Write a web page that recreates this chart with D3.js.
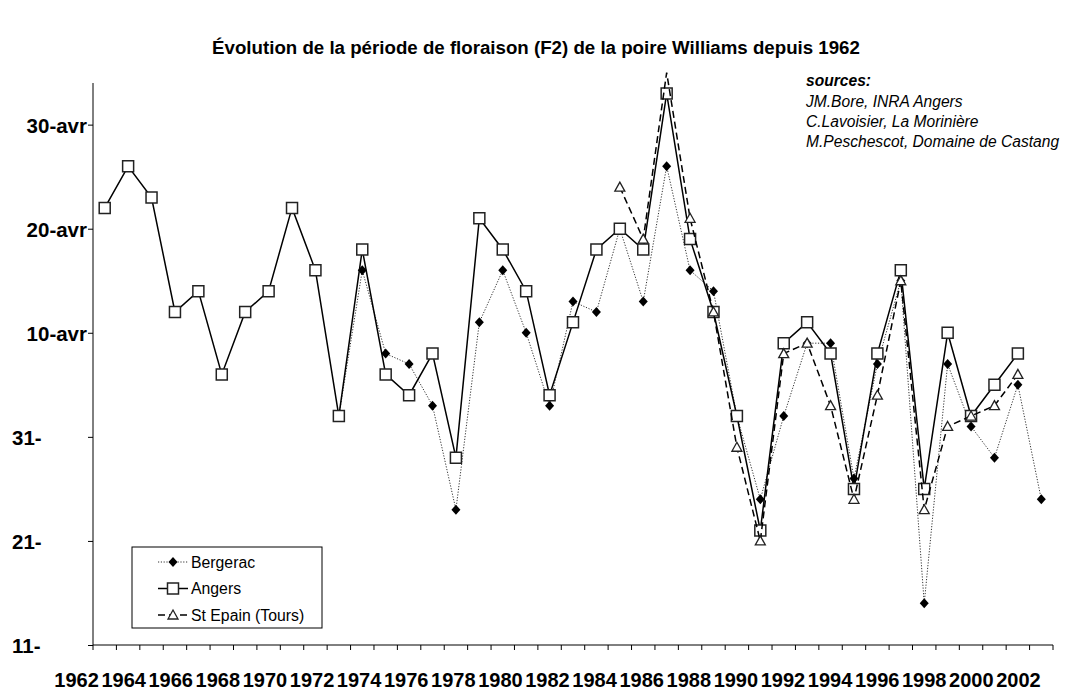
<!DOCTYPE html>
<html>
<head>
<meta charset="utf-8">
<script src="https://cdn.jsdelivr.net/npm/d3@7"></script>
<style>
body { margin: 0; background: #fff; }
svg text { font-family: "Liberation Sans", Arial, sans-serif; fill: #000; }
</style>
</head>
<body>
<script>
"use strict";

// dates de floraison F2, en jours comptés depuis le 1er mars (31 = 31 mars, 41 = 10 avril)
let years = d3.range(1962, 2003);
let bergerac = [null, null, null, null, null, null, null, null, null, null,
    33, 47, 39, 38, 34, 24, 42, 47, 41, 34, 44, 43, 51, 44, 57, 47, 45, 33, 25, 33,
    40, 40, 27, 38, 46, 15, 38, 32, 29, 36, 25];
let angers = [53, 57, 54, 43, 45, 37, 43, 45, 53, 47, 33, 49, 37, 35, 39, 29, 52, 49, 45, 35,
    42, 49, 51, 49, 64, 50, 43, 33, 22, 40, 42, 39, 26, 39, 47, 26, 41, 33, 36, 39, null];
let stEpain = [null, null, null, null, null, null, null, null, null, null,
    null, null, null, null, null, null, null, null, null, null, null, null,
    55, 50, 66, 52, 43, 30, 21, 39, 40, 34, 25, 35, 46, 24, 32, 33, 34, 37, null];

let yTicks = [11, 21, 31, 41, 51, 61];
let yLabels = ["11-", "21-", "31-", "10-avr", "20-avr", "30-avr"];
let xLabelYears = d3.range(1962, 2003, 2);
let seriesNames = ["Bergerac", "Angers", "St Epain (Tours)"];
let sources = ["JM.Bore, INRA Angers", "C.Lavoisier, La Morinière", "M.Peschescot, Domaine de Castang"];

let margins = {top: 83, right: 12, bottom: 50, left: 93};
let W = 1065, H = 695;
let width = W - margins.left - margins.right;
let height = H - margins.top - margins.bottom;

let svg = d3.select('body')
    .append('svg')
    .attr('width', W)
    .attr('height', H);

svg.append('text')
    .attr('x', 536)
    .attr('y', 54)
    .attr('text-anchor', 'middle')
    .style('font-size', '18.7px')
    .style('font-weight', 'bold')
    .text('Évolution de la période de floraison (F2) de la poire Williams depuis 1962');

let g = svg.append('g')
    .attr('transform', 'translate(' + margins.left + ',' + margins.top + ')');

let x = d3.scaleBand().domain(years).range([0, width]);
let y = d3.scaleLinear().domain([11, 65]).range([height, 0]);
let cx = function(i) { return x(years[i]) + x.bandwidth() / 2; };

// y axis
let yAxis = g.append('g')
    .call(d3.axisLeft(y).tickValues(yTicks).tickSize(5).tickPadding(1)
        .tickFormat(function(d, i) { return yLabels[i]; }));
yAxis.select('.domain').attr('d', 'M0,0V' + height).attr('stroke', '#000');
yAxis.selectAll('text')
    .style('font-size', '20.5px')
    .style('font-weight', 'bold')
    .attr('dy', '0.36em')
    .each(function(d, i) {
        // labels de mars tronqués par Excel : seul le début reste visible
        if (yLabels[i].length < 4) {
            d3.select(this).attr('text-anchor', 'start').attr('x', 12 - margins.left);
        }
    });

// x axis
g.append('line')
    .attr('x1', 0).attr('x2', width)
    .attr('y1', height).attr('y2', height)
    .attr('stroke', '#000');
g.selectAll('.xtick')
    .data(years.concat([null]))
    .enter()
    .append('line')
    .attr('class', 'xtick')
    .attr('x1', function(d) { return d === null ? width : x(d); })
    .attr('x2', function(d) { return d === null ? width : x(d); })
    .attr('y1', height)
    .attr('y2', height + 5)
    .attr('stroke', '#000');

let xl = d3.scaleBand().domain(xLabelYears).range([53 - margins.left, 1042 - margins.left]);
g.selectAll('.xlabel')
    .data(xLabelYears)
    .enter()
    .append('text')
    .attr('class', 'xlabel')
    .attr('x', function(d) { return xl(d) + xl.bandwidth() / 2; })
    .attr('y', 604)
    .attr('text-anchor', 'middle')
    .style('font-size', '20px')
    .style('font-weight', 'bold')
    .text(function(d) { return d; });

// series
let styles = [
    {data: bergerac, stroke: '#333', width: 1, dash: '1.2,1.6', marker: 'diamond'},
    {data: angers, stroke: '#000', width: 1.5, dash: null, marker: 'square'},
    {data: stEpain, stroke: '#000', width: 1.5, dash: '7,4', marker: 'triangle'}
];

function markerPath(type) {
    if (type === 'diamond') return 'M0,-5L4.5,0L0,5L-4.5,0Z';
    if (type === 'square') return 'M-5.5,-5.5H5.5V5.5H-5.5Z';
    return 'M0,-5L5,4H-5Z';
}

function drawMarker(sel, type, px, py) {
    sel.append('path')
        .attr('d', markerPath(type))
        .attr('transform', 'translate(' + px + ',' + py + ')')
        .attr('fill', type === 'diamond' ? '#000' : '#fff')
        .attr('stroke', type === 'diamond' ? 'none' : '#222')
        .attr('stroke-width', type === 'square' ? 1.5 : 1.3);
}

styles.forEach(function(s) {
    let line = d3.line()
        .defined(function(d) { return d !== null; })
        .x(function(d, i) { return cx(i); })
        .y(function(d) { return y(d); });

    let sg = g.append('g');
    sg.append('path')
        .datum(s.data)
        .attr('d', line)
        .attr('fill', 'none')
        .attr('stroke', s.stroke)
        .attr('stroke-width', s.width)
        .attr('stroke-dasharray', s.dash);

    s.data.forEach(function(d, i) {
        // pas de marqueur hors de la zone de tracé
        if (d === null || d > y.domain()[1]) return;
        drawMarker(sg, s.marker, cx(i), y(d));
    });
});

// legend
let lg = svg.append('g').attr('transform', 'translate(132,547)');
lg.append('rect')
    .attr('width', 190).attr('height', 81)
    .attr('fill', '#fff').attr('stroke', '#000');
styles.forEach(function(s, i) {
    let ly = 15 + i * 26.5;
    lg.append('line')
        .attr('x1', 26).attr('x2', 56)
        .attr('y1', ly).attr('y2', ly)
        .attr('stroke', s.stroke)
        .attr('stroke-width', s.width)
        .attr('stroke-dasharray', s.dash);
    drawMarker(lg, s.marker, 41, ly);
    lg.append('text')
        .attr('x', 59).attr('y', ly + 5.5)
        .style('font-size', '15.8px')
        .text(seriesNames[i]);
});

// sources
svg.append('text')
    .attr('x', 806).attr('y', 86)
    .style('font-size', '15.6px')
    .style('font-style', 'italic')
    .style('font-weight', 'bold')
    .text('sources:');
svg.selectAll('.src')
    .data(sources)
    .enter()
    .append('text')
    .attr('class', 'src')
    .attr('x', 806)
    .attr('y', function(d, i) { return 106.5 + i * 20; })
    .style('font-size', '15.6px')
    .style('font-style', 'italic')
    .text(function(d) { return d; });
</script>
</body>
</html>
